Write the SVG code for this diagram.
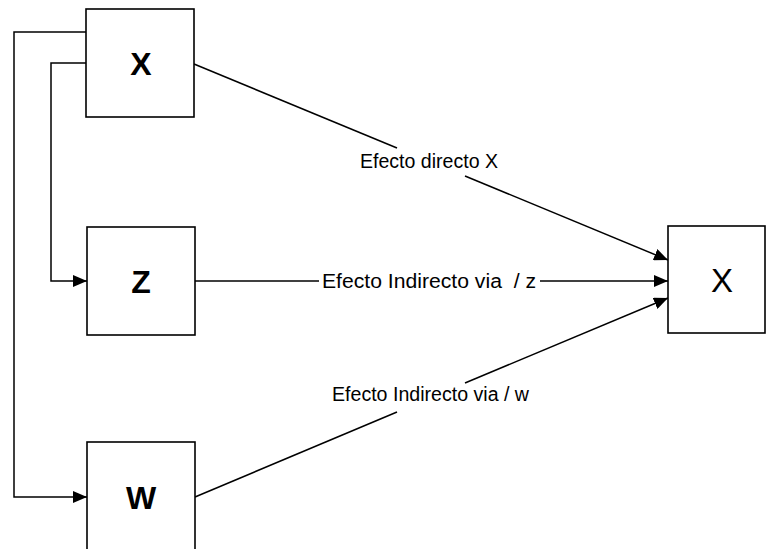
<svg xmlns="http://www.w3.org/2000/svg" width="766" height="549" viewBox="0 0 766 549">
<style>
.box{fill:#fff;stroke:#000;stroke-width:1.6}
.ln{fill:none;stroke:#000;stroke-width:1.5}
.big{font-family:"Liberation Sans",Arial,sans-serif;font-weight:bold;font-size:32px;text-anchor:middle}
.bigr{font-family:"Liberation Sans",Arial,sans-serif;font-size:33px;text-anchor:middle}
.lbl{font-family:"Liberation Sans",Arial,sans-serif;font-size:20px}
</style>
<defs>
<marker id="ah" markerWidth="14" markerHeight="12" refX="14" refY="6" orient="auto" markerUnits="userSpaceOnUse">
<path d="M0,0 L14,6 L0,12 Z" fill="#000"/>
</marker>
</defs>
<rect width="766" height="549" fill="#fff"/>
<g id="connectors">
<polyline class="ln" points="86,32 14,32 14,497 87,497" marker-end="url(#ah)"/>
<polyline class="ln" points="86,63 51,63 51,281 87,281" marker-end="url(#ah)"/>
<line class="ln" x1="194" y1="64" x2="397" y2="148"/>
<line class="ln" x1="465" y1="176" x2="668" y2="260" marker-end="url(#ah)"/>
<line class="ln" x1="195" y1="281" x2="319" y2="281"/>
<line class="ln" x1="540" y1="281" x2="668" y2="281" marker-end="url(#ah)"/>
<line class="ln" x1="195" y1="497" x2="397" y2="412"/>
<line class="ln" x1="465" y1="383" x2="668" y2="298" marker-end="url(#ah)"/>
<text class="lbl" x="360" y="168" textLength="138" lengthAdjust="spacingAndGlyphs">Efecto directo X</text>
<text class="lbl" x="322" y="288" xml:space="preserve" textLength="214" lengthAdjust="spacingAndGlyphs">Efecto Indirecto via  / z</text>
<text class="lbl" x="332" y="401" textLength="197" lengthAdjust="spacingAndGlyphs">Efecto Indirecto via / w</text>
</g>
<g id="nodeX">
<rect class="box" x="86" y="9" width="108" height="108"/>
<text class="big" x="141" y="75">X</text>
</g>
<g id="nodeZ">
<rect class="box" x="87" y="227" width="108" height="108"/>
<text class="big" x="141" y="293">Z</text>
</g>
<g id="nodeW">
<rect class="box" x="87" y="442" width="108" height="120"/>
<text class="big" x="141" y="509">W</text>
</g>
<g id="nodeX2">
<rect class="box" x="668" y="226" width="97" height="107"/>
<text class="bigr" x="722" y="292">X</text>
</g>
</svg>
